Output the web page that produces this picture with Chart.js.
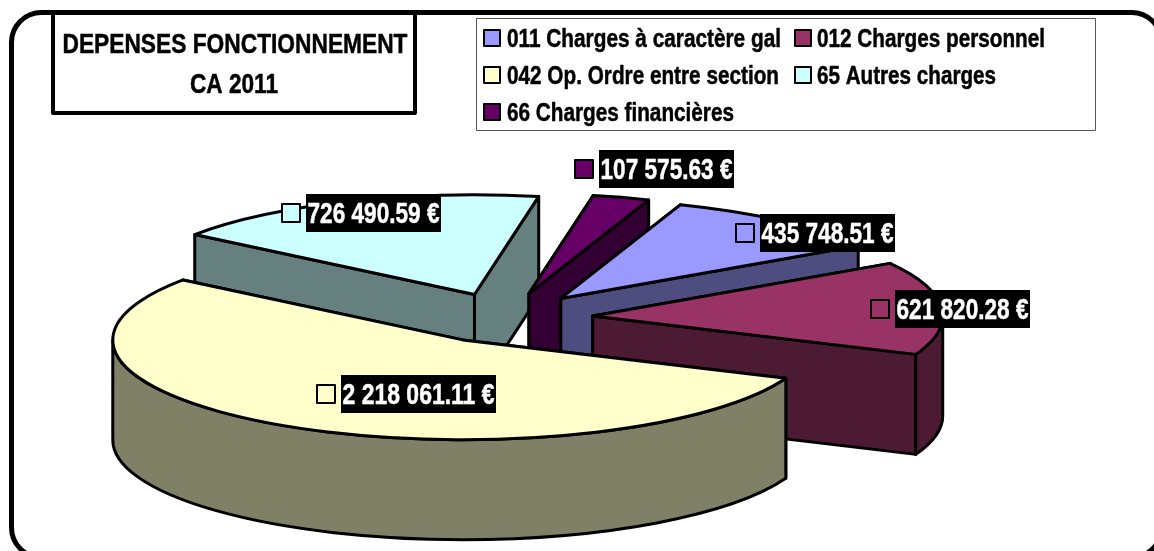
<!DOCTYPE html>
<html><head><meta charset="utf-8">
<style>html,body{margin:0;padding:0;background:#fff;overflow:hidden}canvas{display:block}</style>
<script src="https://cdn.jsdelivr.net/npm/chart.js@4"></script>
</head><body><canvas id="c" width="1154" height="551"></canvas>
<script>
const categories = ['011 Charges à caractère gal','012 Charges personnel','042 Op. Ordre entre section','65 Autres charges','66 Charges financières'];
const values = [435748.51, 621820.28, 2218061.11, 726490.59, 107575.63];
const topColors = ['#9999FF','#993366','#FFFFCC','#CCFFFF','#660066'];
const wallColors = ['#4D4D80','#4D1A33','#808066','#668080','#330033'];
const titleLines = ['DEPENSES FONCTIONNEMENT','CA 2011'];

const SY = 0.285, WALL = 100, EXPLODE = 87;
const paintOrder = [3,4,0,1,2];
const labelShift = [[267,-65],[370,-7],[-44,54],[-101,-81],[138,-125]];
const legendSlots = [[484,38,507,274],[795,38,817,228],[484,75,507,272],[795,75,817,179],[484,112,507,227]];
const fmt = v => v.toFixed(2).replace(/\B(?=(\d{3})+\.)/g,' ') + ' €';

function arcGeom(arc){
  const mid=(arc.startAngle+arc.endAngle)/2;
  return {x:arc.x+Math.cos(mid)*EXPLODE, y:arc.y+Math.sin(mid)*EXPLODE*0.29, r:arc.outerRadius, a0:arc.startAngle, a1:arc.endAngle, mid};
}
function fitText(ctx,t,x,y,w){
  ctx.fillText(t,x,y,w);
  ctx.strokeStyle=ctx.fillStyle;ctx.lineWidth=0.5;ctx.strokeText(t,x,y,w);
}
const pie3d = {
  id:'pie3d',
  beforeDraw(chart){
    const ctx=chart.ctx; ctx.save();
    ctx.strokeStyle='#000';ctx.lineWidth=5;
    ctx.beginPath();ctx.roundRect(11.5,12.5,1150,545,30);ctx.stroke();
    ctx.restore();
  },
  beforeDatasetDraw(chart,args){
    const ctx=chart.ctx, meta=args.meta;
    ctx.lineWidth=3;ctx.lineJoin='round';ctx.strokeStyle='#000';
    paintOrder.forEach(i=>{
      const arc=meta.data[i], g=arcGeom(arc), ry=g.r*SY;
      const px=a=>g.x+g.r*Math.cos(a), py=a=>g.y+ry*Math.sin(a);
      ctx.fillStyle=wallColors[i];
      [g.a0,g.a1].forEach(a=>{
        ctx.beginPath();ctx.moveTo(g.x,g.y);ctx.lineTo(px(a),py(a));ctx.lineTo(px(a),py(a)+WALL);ctx.lineTo(g.x,g.y+WALL);ctx.closePath();ctx.fill();ctx.stroke();
      });
      for(let k=-1;k<=1;k++){
        const s=Math.max(g.a0,2*Math.PI*k), e=Math.min(g.a1,2*Math.PI*k+Math.PI);
        if(e>s){
          ctx.beginPath();ctx.ellipse(g.x,g.y,g.r,ry,0,s,e);ctx.ellipse(g.x,g.y+WALL,g.r,ry,0,e,s,true);ctx.closePath();ctx.fill();ctx.stroke();
        }
      }
      ctx.save();
      ctx.translate(g.x,g.y);ctx.scale(1,SY);ctx.translate(-arc.x,-arc.y);
      arc.draw(ctx,chart.chartArea);
      ctx.restore();
      ctx.beginPath();ctx.moveTo(g.x,g.y);ctx.ellipse(g.x,g.y,g.r,ry,0,g.a0,g.a1);ctx.closePath();ctx.stroke();
    });
    return false;
  },
  afterDraw(chart){
    const ctx=chart.ctx, meta=chart.getDatasetMeta(0);
    ctx.save();
    // title box
    ctx.fillStyle='#fff';ctx.strokeStyle='#000';ctx.lineWidth=4;
    ctx.beginPath();ctx.rect(53,13,362,100);ctx.fill();ctx.stroke();
    ctx.fillStyle='#000';ctx.font='bold 28px "Liberation Sans", Arial, sans-serif';ctx.textAlign='center';
    fitText(ctx,titleLines[0],235,53,345);fitText(ctx,titleLines[1],234,93,88);
    // legend
    ctx.textAlign='left';ctx.fillStyle='#fff';ctx.strokeStyle='#555';ctx.lineWidth=1;
    ctx.beginPath();ctx.rect(476.5,18.5,619,112);ctx.fill();ctx.stroke();
    ctx.font='bold 25px "Liberation Sans", Arial, sans-serif';
    categories.forEach((c,i)=>{
      const [sx,sy,tx,tw]=legendSlots[i];
      ctx.fillStyle=topColors[i];ctx.strokeStyle='#000';ctx.lineWidth=2;
      ctx.beginPath();ctx.rect(sx,sy-8,16,16);ctx.fill();ctx.stroke();
      ctx.fillStyle='#000';fitText(ctx,c,tx,sy+9,tw);
    });
    // value labels
    ctx.font='bold 29px "Liberation Sans", Arial, sans-serif';
    meta.data.forEach((arc,i)=>{
      const g=arcGeom(arc), t=fmt(values[i]);
      const w=values[i]>=1e6?155:135, cx=g.x+labelShift[i][0], cy=g.y+labelShift[i][1];
      const l=Math.round(cx-w/2), tp=Math.round(cy-19);
      ctx.fillStyle='#000';ctx.fillRect(l,tp,w,38);
      ctx.fillStyle='#fff';ctx.textAlign='center';fitText(ctx,t,l+w/2,tp+29,w-3);
      ctx.fillStyle=topColors[i];ctx.strokeStyle='#000';ctx.lineWidth=2;
      ctx.beginPath();ctx.rect(l-24,tp+10,18,18);ctx.fill();ctx.stroke();
    });
    ctx.restore();
  }
};
new Chart(document.getElementById('c'),{
  type:'pie',
  data:{labels:categories,datasets:[{data:values,backgroundColor:topColors,borderWidth:0}]},
  options:{responsive:false,animation:false,rotation:20,radius:350,
    layout:{padding:{top:85,right:142,left:0,bottom:0}},
    plugins:{legend:{display:false},tooltip:{enabled:false},title:{display:false}}},
  plugins:[pie3d]
});
</script></body></html>
